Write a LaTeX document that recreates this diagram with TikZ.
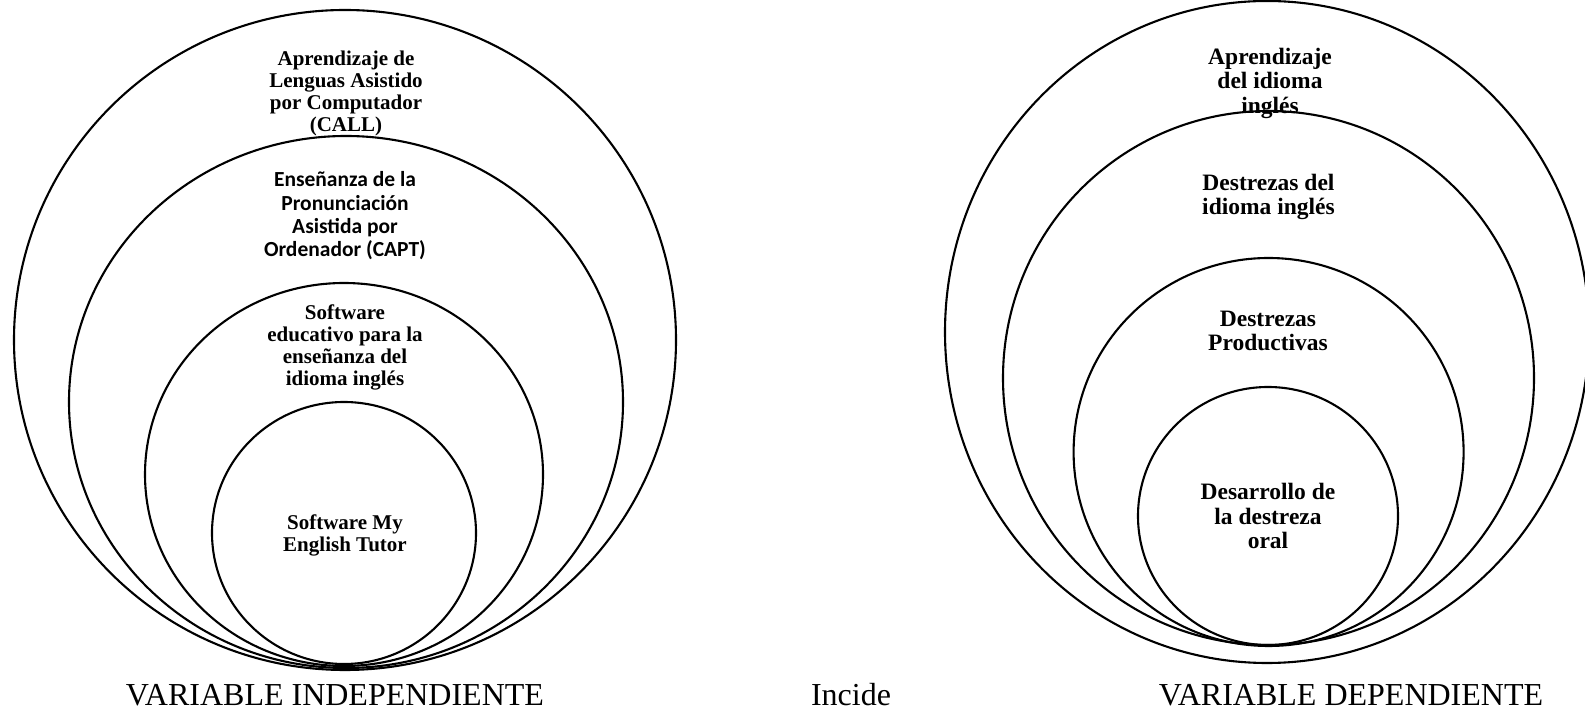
\documentclass[tikz,border=0pt]{standalone}
\usepackage{fontspec}
\setmainfont{Liberation Serif}
\newfontfamily\calibrifont{Carlito}
\begin{document}
\begin{tikzpicture}[x=1pt,y=1pt,
  ring/.style={draw=black,line width=2.1pt},
  lbl/.style={align=center,inner sep=0pt,font=\fontsize{21}{22}\selectfont\bfseries},
  lblc/.style={align=center,inner sep=0pt,font=\calibrifont\fontsize{21.5}{23.3}\selectfont\bfseries},
  rlbl/.style={align=center,inner sep=0pt,font=\fontsize{23.5}{24.5}\selectfont\bfseries},
  caption/.style={anchor=base,inner sep=0pt,font=\fontsize{32}{36}\selectfont}]
\useasboundingbox (0,0) rectangle (1585,712);
% left group
\draw[ring] (345,372) ellipse [x radius=331, y radius=330];
\draw[ring] (346,310) ellipse [x radius=277, y radius=266];
\draw[ring] (344,237.5) ellipse [x radius=199, y radius=191.5];
\draw[ring] (344,179) ellipse [x radius=132, y radius=131];
\node[lbl] (l1) at (346,619) {Aprendizaje de\\Lenguas Asistido\\por Computador\\(CALL)};
\node[lblc] (l2) at (345,496) {Enseñanza de la\\Pronunciación\\Asistida por\\Ordenador (CAPT)};
\node[lbl] (l3) at (345,365) {Software\\educativo para la\\enseñanza del\\idioma inglés};
\node[lbl] (l4) at (345,177) {Software My\\English Tutor};
% right group
\draw[ring] (1267,380) ellipse [x radius=322, y radius=331];
\draw[ring] (1268.5,334) ellipse [x radius=265.5, y radius=267];
\draw[ring] (1268.6,260) ellipse [x radius=195, y radius=194];
\draw[ring] (1268,196) ellipse [x radius=130, y radius=129];
\node[rlbl] (r1) at (1270,629) {Aprendizaje\\del idioma\\inglés};
\node[rlbl] (r2) at (1268.5,515) {Destrezas del\\idioma inglés};
\node[rlbl] (r3) at (1268,381) {Destrezas\\Productivas};
\node[rlbl] (r4) at (1268,196) {Desarrollo de\\la destreza\\oral};
% captions
\node[caption] (vi) at (335,6) {VARIABLE INDEPENDIENTE};
\node[caption] (inc) at (851,6) {Incide};
\node[caption] (vd) at (1351,6) {VARIABLE DEPENDIENTE};
\end{tikzpicture}
\end{document}
